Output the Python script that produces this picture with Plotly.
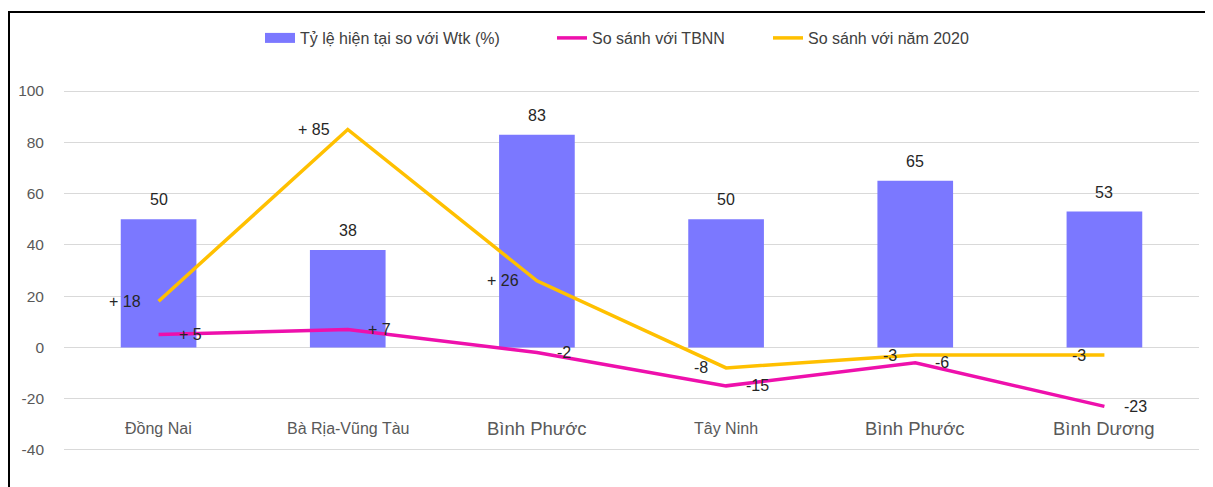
import plotly.graph_objects as go

categories = ["Đồng Nai", "Bà Rịa-Vũng Tàu", "Bình Phước", "Tây Ninh", "Bình Phước", "Bình Dương"]
ratio_wtk = [50, 38, 83, 50, 65, 53]
vs_tbnn = [5, 7, -2, -15, -6, -23]
vs_2020 = [18, 85, 26, -8, -3, -3]
tbnn_labels = ["+ 5", "+ 7", "-2", "-15", "-6", "-23"]
y2020_labels = ["+ 18", "+ 85", "+ 26", "-8", "-3", "-3"]
y_ticks = [-40, -20, 0, 20, 40, 60, 80, 100]
y_tick_text = ["-40", "-20", "0", "20", "40", "60", "80", "100"]

# style only
label_sizes = [16, 16, 18.5, 16, 18.5, 18.5]
FONT = "Liberation Sans"
BAR_C = "#7B78FF"
PINK = "#EE10AC"
GOLD = "#FFC000"

# page offset (browser body margin)
OFF = 8
L, R, T, B = 56, 14, 52, 7
W, H = 1205, 479
pw, ph = W - L - R, H - T - B


def px(page_x):
    return (page_x - OFF - L) / pw


def py(page_y):
    return (H - B - (page_y - OFF)) / ph


x = list(range(len(categories)))

fig = go.Figure()
fig.add_trace(go.Bar(
    x=x, y=ratio_wtk, width=0.4, marker=dict(color=BAR_C, line=dict(width=0)),
    name="Tỷ lệ hiện tại so với Wtk (%)", showlegend=False))
# legend swatch for bar (wide rectangle like the reference)
fig.add_trace(go.Scatter(
    x=[None], y=[None], mode="lines", line=dict(color=BAR_C, width=10),
    name="Tỷ lệ hiện tại so với Wtk (%)", legend="legend"))
fig.add_trace(go.Scatter(
    x=x, y=vs_tbnn, mode="lines", line=dict(color=PINK, width=3.5),
    name="So sánh với TBNN", legend="legend2"))
fig.add_trace(go.Scatter(
    x=x, y=vs_2020, mode="lines", line=dict(color=GOLD, width=3.5),
    name="So sánh với năm 2020", legend="legend3"))

annotations = []
for xi, v in zip(x, ratio_wtk):
    annotations.append(dict(x=xi, y=v, xref="x", yref="y", text=str(v), showarrow=False,
                            yanchor="bottom", yshift=9,
                            font=dict(family=FONT, size=16, color="#262626")))
for xi, v, t in zip(x, vs_tbnn, tbnn_labels):
    annotations.append(dict(x=xi, y=v, xref="x", yref="y", text=t, showarrow=False,
                            xanchor="left", yanchor="middle", xshift=18,
                            font=dict(family=FONT, size=16, color="#262626")))
for xi, v, t in zip(x, vs_2020, y2020_labels):
    annotations.append(dict(x=xi, y=v, xref="x", yref="y", text=t, showarrow=False,
                            xanchor="right", yanchor="middle", xshift=-16,
                            font=dict(family=FONT, size=16, color="#262626")))
for xi, c, s in zip(x, categories, label_sizes):
    annotations.append(dict(x=xi, y=-31.6, xref="x", yref="y", text=c, showarrow=False,
                            yanchor="middle", font=dict(family=FONT, size=s, color="#595959")))

shapes = [
    dict(type="line", xref="paper", yref="paper", x0=px(9), x1=px(9), y0=py(11), y1=py(500),
         line=dict(color="black", width=2)),
    dict(type="line", xref="paper", yref="paper", x0=px(8), x1=px(1230), y0=py(12), y1=py(12),
         line=dict(color="black", width=2)),
]

leg_font = dict(family=FONT, size=16, color="#404040")


def leg(text_start):
    return dict(orientation="h", x=px(text_start - 40), xanchor="left", y=py(38),
                yanchor="middle", font=leg_font, bgcolor="rgba(0,0,0,0)", borderwidth=0)


fig.update_layout(
    width=W, height=H,
    margin=dict(l=L, r=R, t=T, b=B),
    paper_bgcolor="white", plot_bgcolor="white",
    font=dict(family=FONT, color="#404040"),
    showlegend=True,
    legend=leg(300),
    legend2=leg(592),
    legend3=leg(808),
    xaxis=dict(range=[-0.5, 5.5], showticklabels=False, showgrid=False, zeroline=False,
               showline=False, fixedrange=True),
    yaxis=dict(range=[-51.72, 112.11], tickvals=y_ticks, ticktext=y_tick_text,
               showgrid=True, gridcolor="#D9D9D9",
               gridwidth=1, zeroline=False, showline=False, ticks="",
               ticklabelstandoff=19,
               tickfont=dict(family=FONT, size=15.5, color="#595959")),
    annotations=annotations,
    shapes=shapes,
)

fig.write_html("out.html")
